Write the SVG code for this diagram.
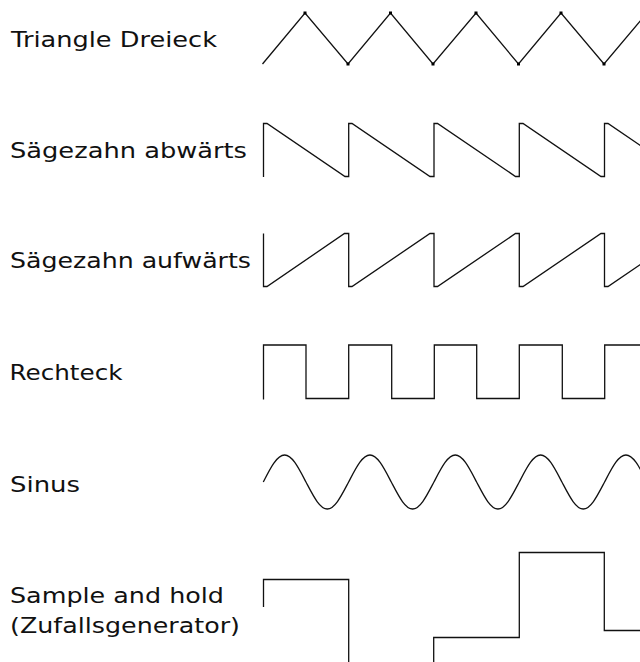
<svg xmlns="http://www.w3.org/2000/svg" width="640" height="662" viewBox="0 0 640 662">
<style>
.lbl{font-family:"DejaVu Sans","Liberation Sans",sans-serif;font-size:22px;fill:#111}
.w{fill:none;stroke:#111;stroke-width:1.3;stroke-linejoin:miter}
.dot{fill:#000}
</style>
<rect width="640" height="662" fill="#fff"/>
<g id="triangle">
<text class="lbl" x="11" y="47" textLength="206" lengthAdjust="spacingAndGlyphs">Triangle Dreieck</text>
<path class="w" d="M262.5,64 L305,13 L348,64 L390.5,13 L433,64 L476,13 L518.5,64 L561,13 L604,64 L647,13"/>
<g class="dot">
<rect x="303.5" y="11.5" width="3" height="3"/><rect x="346.5" y="62.5" width="3" height="3"/>
<rect x="389" y="11.5" width="3" height="3"/><rect x="431.5" y="62.5" width="3" height="3"/>
<rect x="474.5" y="11.5" width="3" height="3"/><rect x="517" y="62.5" width="3" height="3"/>
<rect x="559.5" y="11.5" width="3" height="3"/><rect x="602.5" y="62.5" width="3" height="3"/>
</g>
</g>
<g id="saw-down">
<text class="lbl" x="10" y="158" textLength="237" lengthAdjust="spacingAndGlyphs">Sägezahn abwärts</text>
<path class="w" d="M263.5,177 V123.5 H267 L345,176.5 H348.7 V123.5 H352 L430,176.5 H434 V123.5 H437.5 L515.5,176.5 H519.3 V123.5 H523 L601,176.5 H604.5 V123.5 H608 L686,176.5"/>
</g>
<g id="saw-up">
<text class="lbl" x="10" y="268" textLength="241" lengthAdjust="spacingAndGlyphs">Sägezahn aufwärts</text>
<path class="w" d="M263.5,233.5 V286.5 H267 L344.5,233.5 H348.7 V286.5 H352 L430,233.5 H434 V286.5 H437.5 L515.5,233.5 H519.3 V286.5 H523 L601,233.5 H604.5 V286.5 H608 L686,233.5"/>
</g>
<g id="square">
<text class="lbl" x="9.5" y="380" textLength="113" lengthAdjust="spacingAndGlyphs">Rechteck</text>
<path class="w" d="M263.5,399.5 V345 H306 V398.5 H348.7 V345 H391.7 V398.5 H434.3 V345 H476.7 V398.5 H519.3 V345 H562.3 V398.5 H604.7 V345 H641"/>
</g>
<g id="sine">
<text class="lbl" x="10" y="491.5" textLength="70" lengthAdjust="spacingAndGlyphs">Sinus</text>
<path class="w" d="M263.3,482 c6.96,-13.83 13.61,-27 21.33,-27 s14.37,13.83 21.33,27 s13.61,27 21.33,27 s14.37,-13.83 21.33,-27 s13.61,-27 21.33,-27 s14.37,13.83 21.33,27 s13.61,27 21.33,27 s14.37,-13.83 21.33,-27 s13.61,-27 21.33,-27 s14.37,13.83 21.33,27 s13.61,27 21.33,27 s14.37,-13.83 21.33,-27 s13.61,-27 21.33,-27 s14.37,13.83 21.33,27 s13.61,27 21.33,27 s14.37,-13.83 21.33,-27 s13.61,-27 21.33,-27 s14.37,13.83 21.33,27"/>
</g>
<g id="sample-hold">
<text class="lbl" x="10" y="602.5" textLength="214" lengthAdjust="spacingAndGlyphs">Sample and hold</text>
<text class="lbl" x="10" y="632.5" textLength="230" lengthAdjust="spacingAndGlyphs">(Zufallsgenerator)</text>
<path class="w" d="M263.5,607 V579.5 H348.7 V670 M433.7,670 V637.5 H519.3 V552.5 H604.3 V630.5 H645"/>
</g>
</svg>
